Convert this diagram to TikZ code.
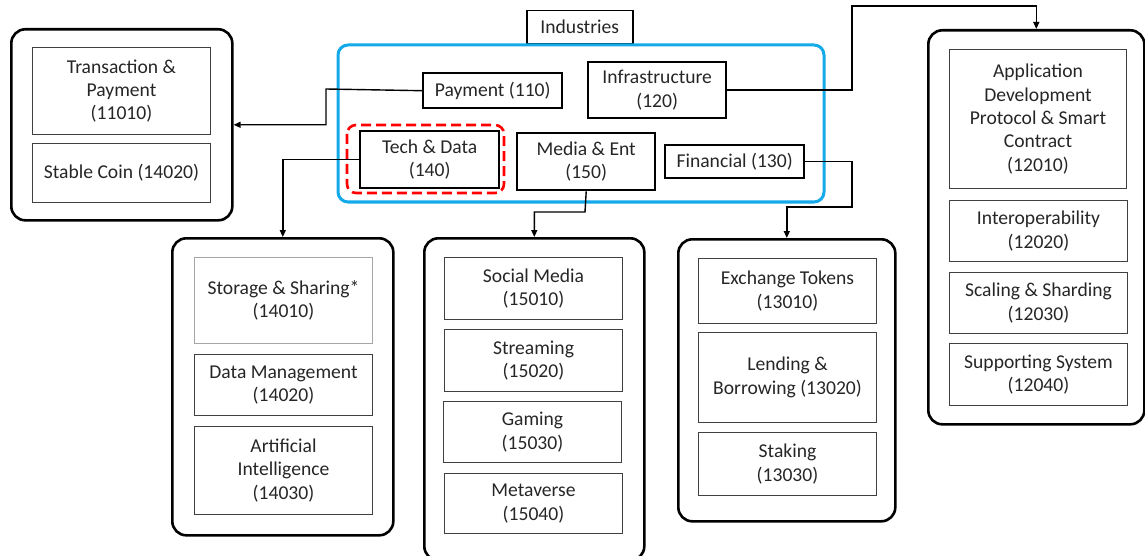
\documentclass[tikz,border=0pt]{standalone}
\usepackage{fontspec}
\setmainfont{Carlito}
\usetikzlibrary{arrows.meta}
\definecolor{bluebox}{HTML}{14A9E8}
\definecolor{txt}{HTML}{262626}
\begin{document}
\begin{tikzpicture}[x=1pt,y=-1pt,
  font=\fontsize{19.6}{23.3}\selectfont, text=txt,
  outer/.style={draw=black,line width=2.6pt,rounded corners=14pt},
  cat/.style={draw=black,line width=2.4pt,inner sep=0pt,align=center,anchor=north west},
  ibox/.style={draw=black!75,line width=1pt,inner sep=0pt,align=center,anchor=north west},
  lbox/.style={draw=black!35,line width=1pt,inner sep=0pt,align=center,anchor=north west},
  conn/.style={draw=black,line width=1.4pt},
  arr/.style={conn,-{Triangle[length=7pt,width=6pt]}}]
\useasboundingbox (0,0) rectangle (1145,556);

% Industries
\node[draw=black,line width=1.5pt,inner sep=0pt,anchor=north west,minimum width=106pt,minimum height=33pt] (ind) at (526,10) {Industries};
\draw[draw=bluebox,line width=3pt,rounded corners=10pt] (338,45) rectangle (824,202);
\draw[red,line width=2.6pt,dash pattern=on 10pt off 5pt,rounded corners=9pt] (347,125) rectangle (504,193);

\node[cat,minimum width=139pt,minimum height=35pt] (pay) at (422,72) {Payment (110)};
\node[cat,minimum width=138pt,minimum height=56pt] (infra) at (587,61) {Infrastructure\\(120)};
\node[cat,minimum width=139pt,minimum height=57pt] (tech) at (359,130) {Tech \& Data\\(140)};
\node[cat,minimum width=138pt,minimum height=57pt] (media) at (516,132) {Media \& Ent\\(150)};
\node[cat,minimum width=139pt,minimum height=33pt] (fin) at (664,144) {Financial (130)};

% Left box
\node[outer,anchor=north west,minimum width=221pt,minimum height=191pt] (lb) at (10,28) {};
\node[ibox,minimum width=178pt,minimum height=87pt] (tp) at (32,47) {Transaction \&\\Payment\\(11010)};
\node[ibox,minimum width=178pt,minimum height=59pt] (sc) at (32,143) {Stable Coin (14020)};

% Bottom-left box
\node[outer,anchor=north west,minimum width=221pt,minimum height=297pt] (bl) at (171,237) {};
\node[lbox,minimum width=178pt,minimum height=86pt] (ss) at (194,257) {Storage \& Sharing*\\(14010)};
\node[ibox,minimum width=178pt,minimum height=61pt] (dm) at (194,354) {Data Management\\(14020)};
\node[ibox,minimum width=178pt,minimum height=88pt] (ai) at (194,426) {Artificial\\Intelligence\\(14030)};

% Middle box
\node[outer,anchor=north west,minimum width=220pt,minimum height=322pt] (mb) at (423,237) {};
\node[ibox,minimum width=178pt,minimum height=62pt] (sm) at (444,257) {Social Media\\(15010)};
\node[ibox,minimum width=178pt,minimum height=62pt] (st) at (444,329) {Streaming\\(15020)};
\node[ibox,minimum width=178pt,minimum height=61pt] (ga) at (443,401) {Gaming\\(15030)};
\node[ibox,minimum width=178pt,minimum height=60pt] (mv) at (444,473) {Metaverse\\(15040)};

% Right-middle box
\node[outer,anchor=north west,minimum width=217pt,minimum height=282pt] (rm) at (677,238) {};
\node[ibox,minimum width=178pt,minimum height=65pt] (et) at (698,258) {Exchange Tokens\\(13010)};
\node[ibox,minimum width=178pt,minimum height=90pt] (lend) at (698,332) {Lending \&\\Borrowing (13020)};
\node[ibox,minimum width=178pt,minimum height=63pt] (stk) at (698,432) {Staking\\(13030)};

% Right box
\node[outer,anchor=north west,minimum width=216pt,minimum height=394pt] (rb) at (927,29) {};
\node[ibox,minimum width=177pt,minimum height=139pt] (app) at (949,49) {Application\\Development\\Protocol \& Smart\\Contract\\(12010)};
\node[ibox,minimum width=178pt,minimum height=61pt] (io) at (949,200) {Interoperability\\(12020)};
\node[ibox,minimum width=178pt,minimum height=61pt] (scl) at (949,272) {Scaling \& Sharding\\(12030)};
\node[ibox,minimum width=178pt,minimum height=62pt] (sup) at (949,343) {Supporting System\\(12040)};

% Connectors
\coordinate (c1) at (326,89);
\draw[arr] (pay.west) -- (c1) |- (lb.east);
\draw[arr] (tech.west) -| (bl.north);
\coordinate (c2) at (585,212);
\draw[arr] (media.south) -- (c2) -| (mb.north);
\coordinate (c3) at (852,207);
\draw[arr] (fin.east) -| (c3) -| (rm.north);
\coordinate (c4) at (852,6);
\draw[arr] (infra.east) -| (c4) -| (rb.north);
\end{tikzpicture}
\end{document}
